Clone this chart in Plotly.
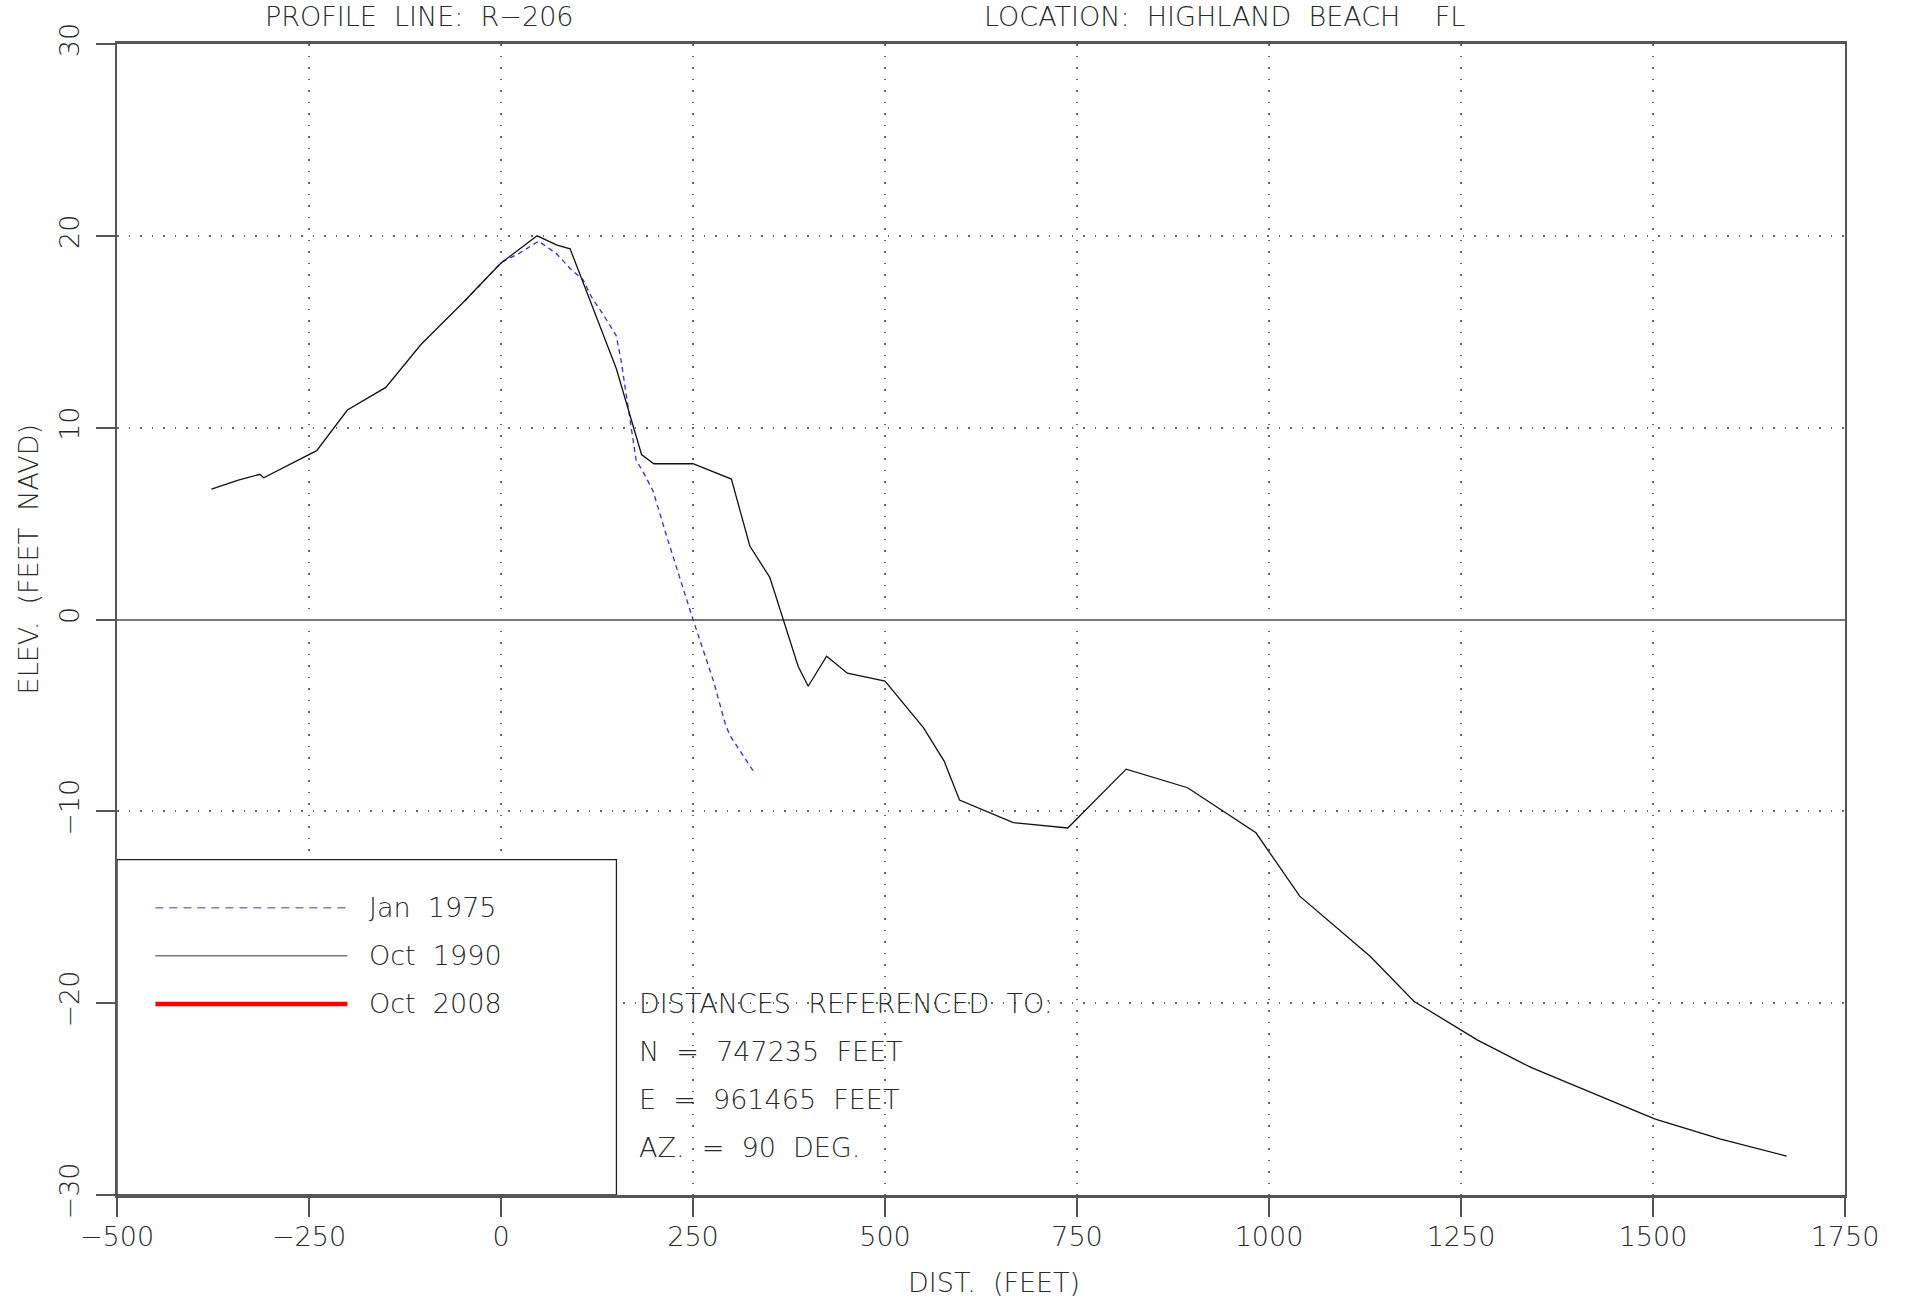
import plotly.graph_objects as go

# ---------------- data ----------------
dist_1975 = [-47, 0, 24, 49, 72, 90, 107, 118, 133, 150, 156, 166, 176, 185, 198, 216, 250, 277, 292, 298, 331]
elev_1975 = [16.6, 18.6, 19.1, 19.72, 19.08, 18.3, 17.7, 16.8, 15.9, 14.8, 13.6, 11.0, 8.3, 7.7, 6.7, 4.3, 0.0, -3.25, -5.44, -6.04, -8.05]

dist_1990 = [-377, -342, -314, -309, -240, -200, -150, -104, -50, 0, 47, 73, 90, 150, 183, 199, 250, 300,
             324, 350, 387, 400, 424, 451, 500, 550, 577, 597, 667, 738, 814, 894, 983, 1040, 1132, 1189,
             1271, 1341, 1502, 1587, 1674]
elev_1990 = [6.8, 7.27, 7.57, 7.39, 8.8, 10.92, 12.1, 14.35, 16.5, 18.58, 20.0, 19.52, 19.32, 13.1, 8.6, 8.12, 8.12, 7.32,
             3.83, 2.2, -2.45, -3.48, -1.91, -2.8, -3.21, -5.64, -7.38, -9.41, -10.59, -10.87, -7.8, -8.77, -11.12,
             -14.42, -17.57, -19.91, -21.91, -23.35, -26.03, -27.07, -27.97]

dist_2008 = []
elev_2008 = []

series_names = ["Jan  1975", "Oct  1990", "Oct  2008"]

x_ticks = [-500, -250, 0, 250, 500, 750, 1000, 1250, 1500, 1750]
y_ticks = [-30, -20, -10, 0, 10, 20, 30]

title_left = "PROFILE  LINE:  R\u2212206"
title_right = "LOCATION:  HIGHLAND  BEACH    FL"
x_title = "DIST.  (FEET)"
y_title = "ELEV.  (FEET  NAVD)"
ref_lines = ["DISTANCES  REFERENCED  TO:", "N  =  747235  FEET", "E  =  961465  FEET", "AZ.  =  90  DEG."]

# ---------------- styling ----------------
FONT = "DejaVu Sans, sans-serif"
TXT = "#2a2a2a"
FS = 27
WT = 200
AX = "#555555"

def f():
    return dict(family=FONT, size=FS, color=TXT, weight=WT)

fig = go.Figure()
fig.add_trace(go.Scatter(x=dist_1975, y=elev_1975, mode="lines", name=series_names[0],
                         line=dict(color="#2b2bff", width=1.3, dash="5px,4px"), showlegend=False))
fig.add_trace(go.Scatter(x=dist_1990, y=elev_1990, mode="lines", name=series_names[1],
                         line=dict(color="#111111", width=1.3), showlegend=False))
fig.add_trace(go.Scatter(x=dist_2008, y=elev_2008, mode="lines", name=series_names[2],
                         line=dict(color="#ff0000", width=4), showlegend=False))

# legend box (data coords)
box_x0, box_x1, box_y0, box_y1 = -500, 150.3, -30, -12.52
shapes = [dict(type="rect", xref="x", yref="y", x0=box_x0, x1=box_x1, y0=box_y0, y1=box_y1,
               line=dict(color="#222222", width=1.3), fillcolor="white", layer="above")]
leg_y = [-15.03, -17.53, -20.04]
leg_styles = [dict(color="#7777ff", width=1.5, dash="8px,6px"),
              dict(color="#777777", width=1.6),
              dict(color="#ff0000", width=4.5)]
annotations = []
for name, yy, st in zip(series_names, leg_y, leg_styles):
    shapes.append(dict(type="line", xref="x", yref="y", x0=-450, x1=-200, y0=yy, y1=yy,
                       line=st, layer="above"))
    annotations.append(dict(x=-174, y=yy, xref="x", yref="y", text=name, showarrow=False,
                            xanchor="left", yanchor="middle", font=f()))

for i, t in enumerate(ref_lines):
    annotations.append(dict(x=177, y=-20 - 2.5 * i, xref="x", yref="y", text=t, showarrow=False,
                            xanchor="left", yanchor="middle", font=f()))

annotations.append(dict(x=-310.5, y=1.0239, xref="x", yref="paper", text=title_left, showarrow=False,
                        xanchor="left", yanchor="middle", font=f()))
annotations.append(dict(x=626, y=1.0239, xref="x", yref="paper", text=title_right, showarrow=False,
                        xanchor="left", yanchor="middle", font=f()))
annotations.append(dict(x=0.5076, y=-0.0764, xref="paper", yref="paper", text=x_title, showarrow=False,
                        xanchor="center", yanchor="middle", font=f()))
annotations.append(dict(x=-0.0513, y=0.5525, xref="paper", yref="paper", text=y_title, showarrow=False,
                        textangle=-90, xanchor="center", yanchor="middle", font=f()))

grid = dict(showgrid=True, gridcolor="#666666", gridwidth=1.5, griddash="1.5px,10px")

fig.update_layout(
    width=1906, height=1301,
    margin=dict(l=117, r=61, t=44, b=106),
    paper_bgcolor="white", plot_bgcolor="white",
    showlegend=False,
    shapes=shapes, annotations=annotations,
    xaxis=dict(range=[-500, 1750], tickmode="array", tickvals=x_ticks,
               ticks="outside", ticklen=19, tickwidth=1.5, tickcolor=AX,
               showline=True, linecolor=AX, linewidth=2.5, mirror=True,
               zeroline=False, ticklabelstandoff=-3,
               tickfont=f(), **grid),
    yaxis=dict(range=[-30, 30], tickmode="array", tickvals=y_ticks, tickangle=-90,
               ticks="outside", ticklen=19, tickwidth=1.5, tickcolor=AX,
               showline=True, linecolor=AX, linewidth=2, mirror=True,
               zeroline=True, zerolinecolor="#777777", zerolinewidth=2.2,
               ticklabelstandoff=6,
               tickfont=f(), **grid),
)

fig.write_html("out.html", config={"displayModeBar": False},
               post_script="document.body.style.margin='0';")
